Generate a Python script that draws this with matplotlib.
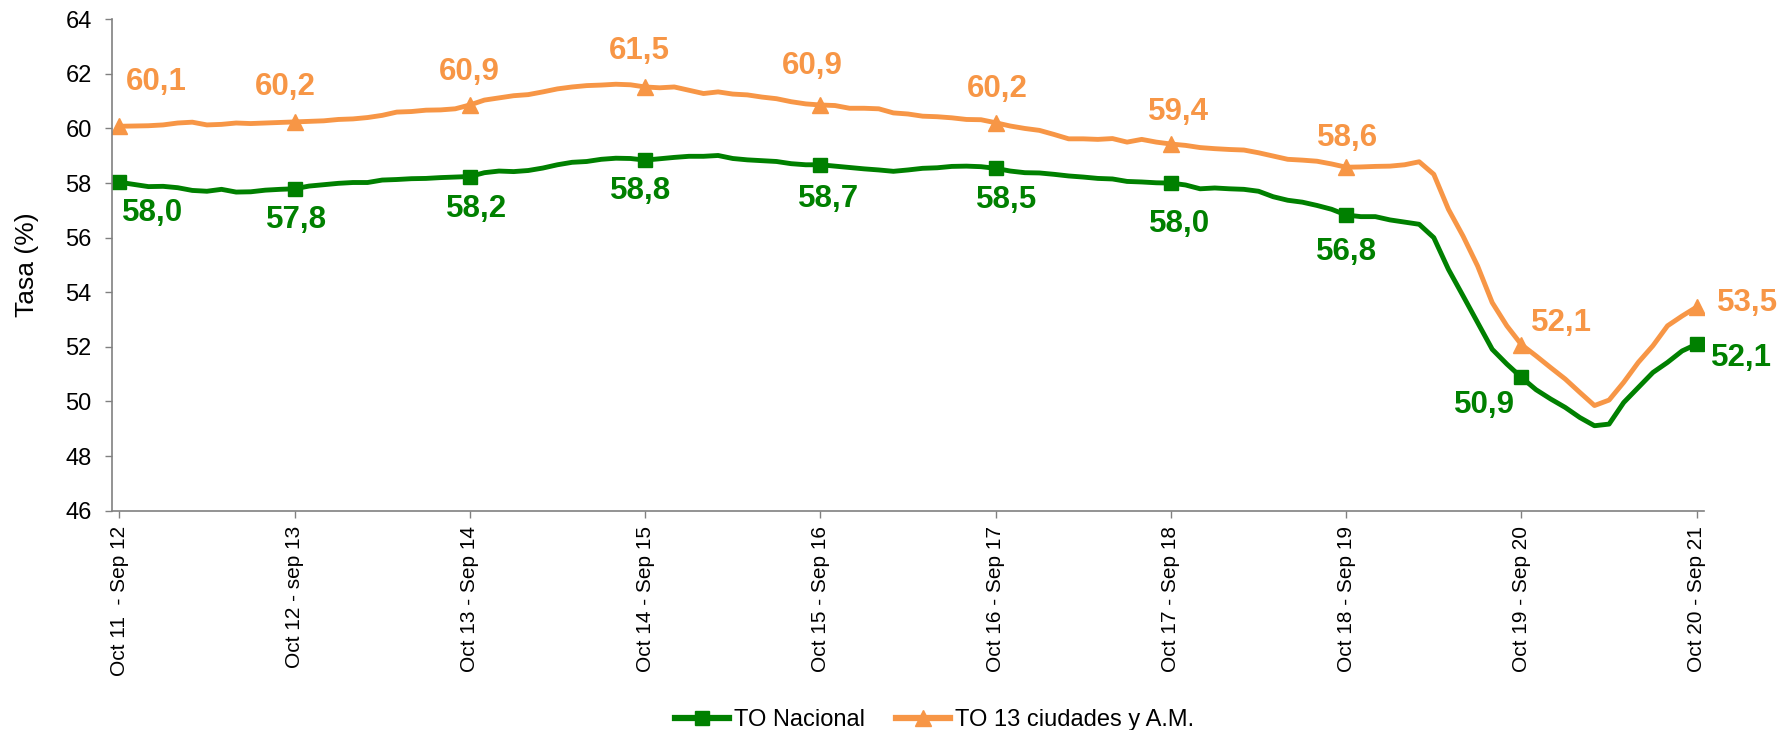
import matplotlib.pyplot as plt
import numpy as np

plt.rcParams['font.family'] = ['Liberation Sans', 'DejaVu Sans']

# monthly rolling-year values, Oct11-Sep12 ... Oct20-Sep21 (109 points)
to_13_ciudades = [
    60.08, 60.09, 60.10, 60.13, 60.20, 60.23, 60.13, 60.15, 60.20, 60.18, 60.20, 60.22,
    60.24, 60.26, 60.28, 60.33, 60.35, 60.40, 60.48, 60.60, 60.62, 60.67, 60.68, 60.72,
    60.86, 61.04, 61.12, 61.20, 61.24, 61.34, 61.45, 61.52, 61.57, 61.59, 61.62, 61.60,
    61.52, 61.49, 61.52, 61.40, 61.28, 61.34, 61.26, 61.23, 61.15, 61.09, 60.98, 60.90,
    60.86, 60.84, 60.74, 60.74, 60.72, 60.57, 60.53, 60.45, 60.43, 60.39, 60.33, 60.32,
    60.21, 60.09, 60.00, 59.93, 59.78, 59.62, 59.62, 59.60, 59.63, 59.50, 59.60, 59.50,
    59.43, 59.38, 59.30, 59.26, 59.23, 59.21, 59.11, 58.99, 58.87, 58.84, 58.80, 58.70,
    58.58, 58.59, 58.61, 58.62, 58.67, 58.78, 58.32, 57.04, 56.06, 54.96, 53.62, 52.77,
    52.08, 51.67, 51.24, 50.82, 50.33, 49.85, 50.05, 50.70, 51.43, 52.04, 52.77, 53.13,
    53.46,
]
to_nacional = [
    58.03, 57.95, 57.87, 57.88, 57.83, 57.73, 57.70, 57.77, 57.67, 57.68, 57.74, 57.77,
    57.79, 57.89, 57.94, 57.99, 58.02, 58.02, 58.11, 58.13, 58.16, 58.17, 58.20, 58.22,
    58.24, 58.38, 58.44, 58.42, 58.46, 58.55, 58.67, 58.76, 58.79, 58.87, 58.91, 58.90,
    58.84, 58.89, 58.94, 58.98, 58.98, 59.01, 58.90, 58.85, 58.82, 58.79, 58.71, 58.67,
    58.67, 58.62, 58.57, 58.52, 58.48, 58.43, 58.48, 58.54, 58.56, 58.61, 58.62, 58.60,
    58.54, 58.44, 58.38, 58.37, 58.32, 58.26, 58.22, 58.17, 58.15, 58.06, 58.04, 58.01,
    58.00, 57.93, 57.79, 57.82, 57.79, 57.77, 57.70, 57.50, 57.37, 57.30, 57.18, 57.04,
    56.83, 56.77, 56.77, 56.65, 56.57, 56.49, 56.00, 54.84, 53.87, 52.89, 51.91, 51.37,
    50.88, 50.43, 50.09, 49.78, 49.41, 49.11, 49.17, 49.96, 50.51, 51.06, 51.43, 51.85,
    52.10,
]
tick_labels = ['Oct 11  - Sep 12', 'Oct 12 - sep 13', 'Oct 13 - Sep 14', 'Oct 14 - Sep 15',
               'Oct 15 - Sep 16', 'Oct 16 - Sep 17', 'Oct 17 - Sep 18', 'Oct 18 - Sep 19',
               'Oct 19 - Sep 20', 'Oct 20 - Sep 21']

# label offsets in pixels (dx, dy down), per yearly marker
off_13 = [(37, -44), (-9, -35), (-1, -33), (-6, -36), (-8, -39), (2, -34), (8, -32), (1, -29), (40, -22), (20, -4)]
off_nac = [(33, 31), (2, 31), (7, 32), (-4, 31), (8, 34), (11, 32), (9, 41), (0, 37), (-37, 28), (14, 14)]

GREEN = '#008000'
ORANGE = '#F79646'

x = np.arange(len(to_nacional))
marks = list(range(0, len(x), 12))

fig = plt.figure(figsize=(17.83, 7.30), dpi=100)
ax = fig.add_axes([0.0628, 0.3005, 0.8929, 0.6731])

ax.plot(x, to_nacional, color=GREEN, lw=3.5, marker='s', markersize=10.5,
        markevery=marks, label='TO Nacional', solid_joinstyle='round')
ax.plot(x, to_13_ciudades, color=ORANGE, lw=3.5, marker='^', markersize=11,
        markevery=marks, label='TO 13 ciudades y A.M.', solid_joinstyle='round')

px = 0.72  # points per pixel at dpi 100
for k, i in enumerate(marks):
    for vals, offs, col in ((to_13_ciudades, off_13, ORANGE), (to_nacional, off_nac, GREEN)):
        dx, dy = offs[k]
        ha = 'left' if i == marks[-1] else 'center'
        ax.annotate(f'{vals[i]:.1f}'.replace('.', ','), (i, vals[i]),
                    xytext=(dx * px, -dy * px), textcoords='offset points',
                    ha=ha, va='center', fontsize=22.5, fontweight='bold', color=col)

ax.set_xlim(-0.5, len(x) - 0.5)
ax.set_ylim(46, 64)
ax.set_yticks(range(46, 65, 2))
ax.set_xticks(marks)
ax.set_xticklabels(tick_labels, rotation=90, va='top')

for s in ['top', 'right']:
    ax.spines[s].set_visible(False)
for s in ['left', 'bottom']:
    ax.spines[s].set_color('#808080')
    ax.spines[s].set_linewidth(1.2)
ax.tick_params(axis='y', length=5, width=1, color='#808080', labelsize=17, pad=9.5)
ax.tick_params(axis='x', length=5, width=1, color='#808080', labelsize=15, pad=6)

ax.set_ylabel('Tasa (%)', fontsize=19)
ax.yaxis.set_label_coords(-0.046, 0.5)

leg = fig.legend(loc='center', bbox_to_anchor=(0.524, 0.0137), ncol=2, frameon=False,
                 fontsize=17, handlelength=2.3, handletextpad=0.2, columnspacing=1.3,
                 borderaxespad=0)
for h in leg.legend_handles:
    h.set_linewidth(4.5)

fig.savefig('out.png', dpi=100)
